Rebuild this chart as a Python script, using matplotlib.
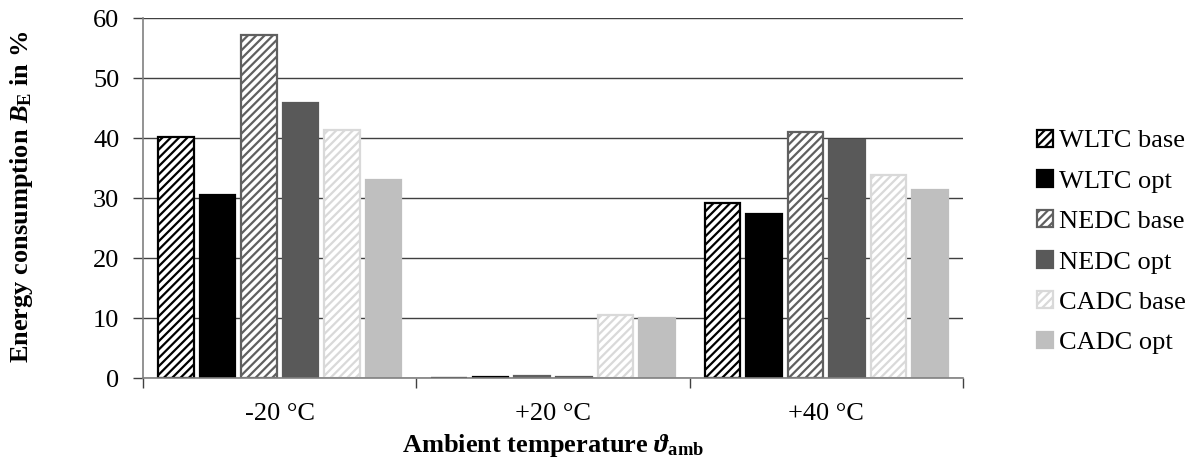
import matplotlib
matplotlib.use("Agg")
import matplotlib.pyplot as plt
import numpy as np

categories = ["-20 °C", "+20 °C", "+40 °C"]
series_names = ["WLTC base", "WLTC opt", "NEDC base", "NEDC opt", "CADC base", "CADC opt"]
wltc_base = [40.2, 0.0, 29.2]
wltc_opt = [30.5, 0.1, 27.3]
nedc_base = [57.2, 0.3, 41.1]
nedc_opt = [45.8, 0.1, 39.7]
cadc_base = [41.3, 10.5, 33.8]
cadc_opt = [33.0, 10.0, 31.3]
values = [wltc_base, wltc_opt, nedc_base, nedc_opt, cadc_base, cadc_opt]

styles = [
    dict(facecolor="white", edgecolor="black", hatch="////"),
    dict(facecolor="black", edgecolor="black", hatch=None),
    dict(facecolor="white", edgecolor="#606060", hatch="////"),
    dict(facecolor="#595959", edgecolor="#595959", hatch=None),
    dict(facecolor="white", edgecolor="#d9d9d9", hatch="////"),
    dict(facecolor="#bfbfbf", edgecolor="#bfbfbf", hatch=None),
]

FS = 19
plt.rcParams["font.family"] = ["Liberation Serif", "DejaVu Serif"]
plt.rcParams["mathtext.fontset"] = "custom"
plt.rcParams["mathtext.rm"] = "Liberation Serif:bold"
plt.rcParams["mathtext.it"] = "Liberation Serif:italic:bold"
plt.rcParams["mathtext.bf"] = "Liberation Serif:bold"
plt.rcParams["hatch.linewidth"] = 1.6

fig = plt.figure(figsize=(11.98, 4.65), dpi=100)
ax = fig.add_axes([0.1194, 0.187, 0.6844, 0.774])

slot = 0.152
width = 0.13
x = np.arange(len(categories))
for i, (name, vals, st) in enumerate(zip(series_names, values, styles)):
    offs = (i - 2.5) * slot
    ax.bar(x + offs, vals, width, label=name, linewidth=1.6, **st)

ax.set_xlim(-0.5, 2.5)
ax.set_ylim(0, 60)
ax.set_yticks(range(0, 61, 10))
ax.set_xticks(x)
ax.set_xticklabels(categories)
ax.set_xticks([-0.5, 0.5, 1.5, 2.5], minor=True)
ax.tick_params(axis="x", which="major", length=0, pad=18, labelsize=FS)
ax.tick_params(axis="x", which="minor", length=7, color="#404040", width=1)
ax.tick_params(axis="y", length=7, color="#404040", width=1, labelsize=FS, pad=10)
ax.yaxis.grid(True, color="#404040", linewidth=1)
ax.set_axisbelow(True)
for s in ["top", "right"]:
    ax.spines[s].set_visible(False)
for s in ["left", "bottom"]:
    ax.spines[s].set_color("#808080")
    ax.spines[s].set_linewidth(1.2)

fig.text(22 / 1198, 1 - 197 / 465, r"Energy consumption $B_{\mathrm{E}}$ in %",
         rotation=90, ha="center", va="center", fontsize=FS, fontweight="bold")
ax.set_xlabel(r"Ambient temperature $\vartheta_{\mathrm{amb}}$", fontsize=FS, fontweight="bold", labelpad=5)

leg = fig.legend(*ax.get_legend_handles_labels(), loc="center left",
                 bbox_to_anchor=(1037 / 1198, 1 - 242 / 465), bbox_transform=fig.transFigure,
                 frameon=False, fontsize=FS, borderpad=0, borderaxespad=0,
                 handlelength=0.6, handleheight=0.6, handletextpad=0.25, labelspacing=0.67)

fig.savefig("out.png", dpi=100)
